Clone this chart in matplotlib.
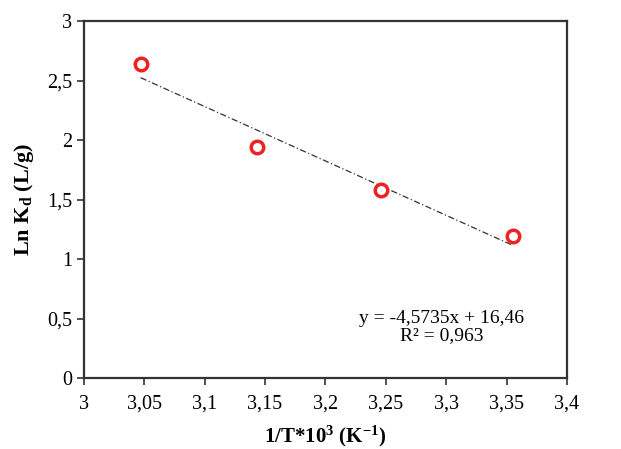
import matplotlib.pyplot as plt
import numpy as np

plt.rcParams["font.family"] = ["Liberation Serif", "DejaVu Serif"]
plt.rcParams["mathtext.fontset"] = "custom"
plt.rcParams["mathtext.rm"] = "Liberation Serif"
plt.rcParams["mathtext.bf"] = "Liberation Serif:bold"
plt.rcParams["mathtext.it"] = "Liberation Serif:italic"

inv_t = [3.047, 3.143, 3.246, 3.355]
ln_kd = [2.64, 1.94, 1.58, 1.19]
slope = -4.5735
intercept = 16.46
r2 = 0.963

x_ticks = [3, 3.05, 3.1, 3.15, 3.2, 3.25, 3.3, 3.35, 3.4]
y_ticks = [0, 0.5, 1, 1.5, 2, 2.5, 3]


def comma(v):
    return f"{v:g}".replace(".", ",")


fig = plt.figure(figsize=(6.21, 4.49), dpi=100)
ax = fig.add_axes([0.135, 0.158, 0.778, 0.795])

fit_x = np.array([inv_t[0], inv_t[-1]])
ax.plot(fit_x, slope * fit_x + intercept, color="#333333", lw=0.9, ls=(0, (5, 2, 1, 2)))
ax.plot(inv_t, ln_kd, ls="none", marker="o", ms=9, mfc="white", mec="#ee2222", mew=2.5)

ax.set_xlim(3, 3.4)
ax.set_ylim(0, 3)
ax.set_xticks(x_ticks)
ax.set_xticklabels([comma(v) for v in x_ticks])
ax.set_yticks(y_ticks)
ax.set_yticklabels([comma(v) for v in y_ticks])
ax.tick_params(direction="out", length=5, width=1.2, labelsize=14.5, color="#333333")
ax.tick_params(axis="x", pad=7)
for s in ax.spines.values():
    s.set_linewidth(1.6)
    s.set_color("#333333")

ax.set_xlabel(r"1/T*10$^\mathbf{3}$ (K$^\mathbf{-1}$)", fontsize=15, fontweight="bold", labelpad=7)
ax.set_ylabel(r"Ln K$_\mathbf{d}$ (L/g)", fontsize=16, fontweight="bold", labelpad=8)

ax.text(3.296, 0.43,
        f"y = {comma(slope)}x + {comma(intercept)}\nR² = {comma(r2)}",
        ha="center", va="center", fontsize=14, linespacing=1.05)

fig.savefig("out.png", dpi=100)
